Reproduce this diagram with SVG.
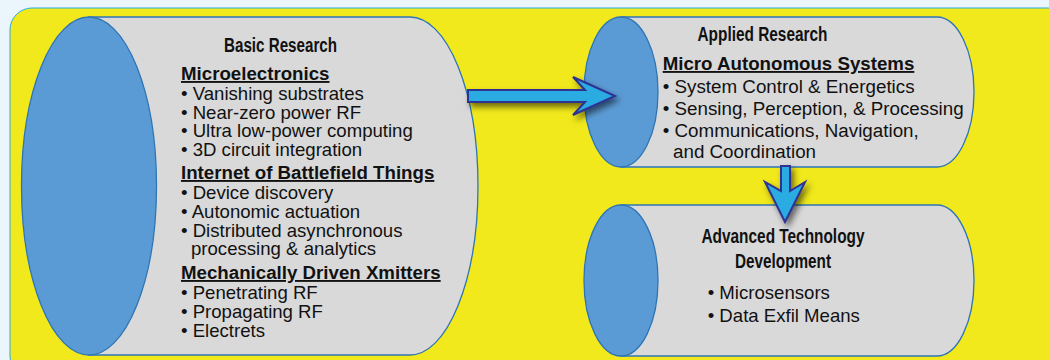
<svg xmlns="http://www.w3.org/2000/svg" width="1049" height="360" viewBox="0 0 1049 360">
<style>
.cyl{fill:#d9d9d9;stroke:#2e75b6;stroke-width:1.3}
.end{fill:#5b9bd5;stroke:#2e75b6;stroke-width:1.3}
text{font-family:"Liberation Sans",Arial,sans-serif;fill:#111}
.t{font-family:"Liberation Sans Narrow","Liberation Sans",Arial,sans-serif;font-weight:bold;font-size:19.5px}
.h{font-weight:bold;font-size:18.7px;text-decoration:underline}
.b{font-size:18.6px}
.arr{fill:#29abe2;stroke:#2e3192;stroke-width:2;stroke-linejoin:miter;filter:url(#sh)}
</style>
<defs>
<filter id="sh" x="-30%" y="-50%" width="160%" height="200%">
<feDropShadow dx="3" dy="4" stdDeviation="3" flood-color="#000" flood-opacity="0.55"/>
</filter>
</defs>
<rect x="0" y="0" width="1049" height="360" fill="#eaf6fc"/>
<rect x="10" y="8" width="1060" height="370" rx="22" fill="#f1e91b" stroke="#29abe2" stroke-width="1"/>

<g id="basic-research">
<path class="cyl" d="M89,17 L410,17 A68,169 0 0 1 410,355 L89,355 Z"/>
<ellipse class="end" cx="89" cy="186" rx="67.5" ry="169"/>
<text class="t" x="280.5" y="52" text-anchor="middle" textLength="113" lengthAdjust="spacingAndGlyphs">Basic Research</text>
<text class="h" x="181" y="80">Microelectronics</text>
<text class="b" x="181" y="100">• Vanishing substrates</text>
<text class="b" x="181" y="118.5">• Near-zero power RF</text>
<text class="b" x="181" y="137">• Ultra low-power computing</text>
<text class="b" x="181" y="155.5">• 3D circuit integration</text>
<text class="h" x="181" y="179">Internet of Battlefield Things</text>
<text class="b" x="181" y="199">• Device discovery</text>
<text class="b" x="181" y="217.5">• Autonomic actuation</text>
<text class="b" x="181" y="236.5">• Distributed asynchronous</text>
<text class="b" x="191" y="254.5">processing &amp; analytics</text>
<text class="h" x="181" y="279">Mechanically Driven Xmitters</text>
<text class="b" x="181" y="299">• Penetrating RF</text>
<text class="b" x="181" y="317.5">• Propagating RF</text>
<text class="b" x="181" y="336.5">• Electrets</text>
</g>

<g id="applied-research">
<path class="cyl" d="M621,17 L937,17 A37,75 0 0 1 937,167 L621,167 Z"/>
<ellipse class="end" cx="621" cy="92" rx="37" ry="75"/>
<text class="t" x="762.5" y="40.7" text-anchor="middle" textLength="130" lengthAdjust="spacingAndGlyphs">Applied Research</text>
<text class="h" x="662.7" y="70">Micro Autonomous Systems</text>
<text class="b" x="662.7" y="93.3" style="font-size:18.8px">• System Control &amp; Energetics</text>
<text class="b" x="662.7" y="115" style="font-size:18.8px">• Sensing, Perception, &amp; Processing</text>
<text class="b" x="662.7" y="136.7" style="font-size:18.8px">• Communications, Navigation,</text>
<text class="b" x="673" y="158.3" style="font-size:18.8px">and Coordination</text>
</g>

<g id="advanced-technology-development">
<path class="cyl" d="M621,205 L937,205 A37,75.5 0 0 1 937,356 L621,356 Z"/>
<ellipse class="end" cx="621" cy="280.5" rx="37" ry="75.5"/>
<text class="t" x="783" y="242.7" text-anchor="middle" textLength="163" lengthAdjust="spacingAndGlyphs">Advanced Technology</text>
<text class="t" x="783" y="268.3" text-anchor="middle" textLength="96" lengthAdjust="spacingAndGlyphs">Development</text>
<text class="b" x="707.7" y="299.3">• Microsensors</text>
<text class="b" x="707.7" y="322.3">• Data Exfil Means</text>
</g>

<g id="connectors">
<path class="arr" d="M468,90 L585,90 L573,77 L615,96 L573,115 L585,102 L468,102 Z"/>
<path class="arr" d="M781,166 L790,166 L790,191 L805,182 L785,222 L765,182 L781,191 Z"/>
</g>
</svg>
